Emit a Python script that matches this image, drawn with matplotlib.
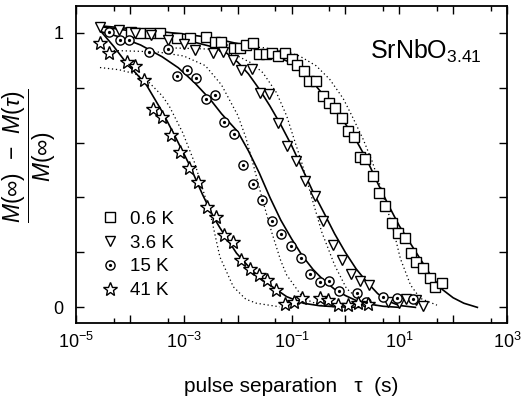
import numpy as np
import matplotlib
matplotlib.use("Agg")
import matplotlib.pyplot as plt
from matplotlib.ticker import FixedLocator, NullFormatter, FuncFormatter

plt.rcParams['font.family'] = ['Liberation Sans', 'DejaVu Sans']
plt.rcParams['mathtext.fontset'] = 'custom'
plt.rcParams['mathtext.rm'] = 'Liberation Sans'
plt.rcParams['mathtext.it'] = 'Liberation Sans:italic'
plt.rcParams['mathtext.bf'] = 'Liberation Sans:bold'

# ---------------- data (log10 of tau in s, normalized value) ----------------
labels = ["0.6 K", "3.6 K", "15 K", "41 K"]

sq_logt = [-3.97, -3.81, -3.63, -3.44, -3.13, -2.89, -2.58, -2.42, -2.30, -2.07, -1.96, -1.84,
           -1.71, -1.60, -1.48, -1.37, -1.25, -1.12, -1.00, -0.90, -0.77, -0.67, -0.54, -0.41,
           -0.30, -0.19, -0.07, 0.04, 0.16, 0.28, 0.36, 0.52, 0.62, 0.74, 0.87, 0.97, 1.10,
           1.22, 1.32, 1.45, 1.57, 1.67, 1.80]
sq_val = [1.001, 0.998, 0.998, 0.998, 0.979, 0.979, 0.985, 0.967, 0.965, 0.945, 0.945, 0.954,
          0.961, 0.921, 0.921, 0.927, 0.915, 0.927, 0.903, 0.881, 0.860, 0.824, 0.824, 0.769,
          0.745, 0.725, 0.691, 0.642, 0.621, 0.549, 0.541, 0.478, 0.415, 0.370, 0.308, 0.269,
          0.254, 0.199, 0.166, 0.142, 0.108, 0.075, 0.090]

tr_logt = [-4.55, -4.20, -3.90, -3.60, -3.30, -3.00, -2.79, -2.45, -2.27, -2.08, -1.93, -1.74,
           -1.59, -1.41, -1.25, -1.09, -0.91, -0.75, -0.57, -0.41, -0.23, -0.07, 0.11, 0.27,
           0.43, 0.80, 1.00, 1.13, 1.32, 1.45]
tr_val = [1.020, 1.010, 1.000, 0.990, 0.975, 0.960, 0.937, 0.925, 0.931, 0.900, 0.864, 0.867,
          0.779, 0.778, 0.671, 0.586, 0.533, 0.460, 0.404, 0.314, 0.226, 0.172, 0.121, 0.097,
          0.080, 0.020, 0.015, 0.029, 0.027, 0.006]

ci_logt = [-4.38, -4.18, -4.01, -3.65, -3.30, -3.13, -2.94, -2.77, -2.59, -2.42, -2.26, -2.07,
           -1.90, -1.71, -1.54, -1.36, -1.19, -1.01, -0.83, -0.66, -0.47, -0.30, -0.12, 0.22,
           0.39, 0.70, 0.95, 1.26]
ci_val = [1.002, 0.975, 0.975, 0.930, 0.941, 0.842, 0.863, 0.836, 0.757, 0.774, 0.674, 0.630,
          0.517, 0.448, 0.391, 0.316, 0.267, 0.225, 0.178, 0.120, 0.093, 0.096, 0.061, 0.053,
          0.021, 0.039, 0.033, 0.030]

st_logt = [-4.56, -4.39, -4.06, -3.90, -3.73, -3.57, -3.41, -3.23, -3.07, -2.91, -2.73, -2.56,
           -2.41, -2.26, -2.09, -1.93, -1.77, -1.60, -1.45, -1.28, -1.12, -0.96, -0.80, -0.48,
           -0.32, -0.13, 0.05, 0.24, 0.42]
st_val = [0.961, 0.927, 0.893, 0.879, 0.828, 0.723, 0.694, 0.629, 0.567, 0.507, 0.458, 0.364,
          0.329, 0.263, 0.239, 0.172, 0.140, 0.118, 0.100, 0.063, 0.012, 0.018, 0.035, 0.035,
          0.027, 0.008, 0.008, 0.015, 0.012]

# solid fit curves
sq_fit_logt = [-4.555, -4.0, -3.5, -3.0, -2.5, -2.0, -1.5, -1.0, -0.75, -0.5, -0.25, 0.0, 0.2,
               0.4, 0.6, 0.8, 1.0, 1.2, 1.4, 1.6, 1.8, 2.0, 2.2, 2.45]
sq_fit_val = [1.025, 1.015, 1.005, 0.995, 0.982, 0.960, 0.930, 0.890, 0.855, 0.795, 0.735,
              0.668, 0.608, 0.537, 0.452, 0.372, 0.297, 0.235, 0.173, 0.112, 0.065, 0.035,
              0.015, 0.0]

tr_fit_logt = [-4.555, -4.0, -3.5, -3.0, -2.5, -2.2, -2.0, -1.8, -1.6, -1.4, -1.2, -1.0, -0.8,
               -0.6, -0.4, -0.2, 0.0, 0.2, 0.4, 0.6, 0.8, 1.0, 1.3]
tr_fit_val = [1.022, 1.007, 0.993, 0.975, 0.950, 0.925, 0.893, 0.850, 0.795, 0.733, 0.665,
              0.590, 0.505, 0.420, 0.345, 0.268, 0.200, 0.140, 0.092, 0.050, 0.022, 0.007, 0.0]

ci_fit_logt = [-4.53, -4.2, -3.8, -3.4, -3.1, -2.8, -2.5, -2.3, -2.0, -1.8, -1.6, -1.4, -1.2,
               -1.0, -0.8, -0.6, -0.4, -0.2, 0.0, 0.2, 0.4, 0.7, 1.0]
ci_fit_val = [1.003, 0.985, 0.955, 0.912, 0.872, 0.818, 0.755, 0.705, 0.640, 0.570, 0.490,
              0.400, 0.318, 0.250, 0.188, 0.138, 0.098, 0.066, 0.043, 0.025, 0.013, 0.004, 0.0]

st_fit_logt = [-4.53, -4.3, -4.07, -3.70, -3.39, -3.15, -2.90, -2.65, -2.45, -2.33, -2.02,
               -1.71, -1.40, -1.09, -0.78, -0.48, -0.17, 0.3]
st_fit_val = [1.003, 0.950, 0.891, 0.812, 0.709, 0.618, 0.521, 0.410, 0.330, 0.290, 0.197,
              0.130, 0.081, 0.039, 0.015, 0.006, 0.002, 0.0]

# dotted curves
sq_dot_logt = [-2.2, -1.5, -1.0, -0.85, -0.54, -0.29, -0.04, 0.14, 0.33, 0.50, 0.70, 0.90,
               1.02, 1.21, 1.39, 1.70]
sq_dot_val = [0.955, 0.945, 0.925, 0.915, 0.879, 0.830, 0.760, 0.690, 0.612, 0.530, 0.410,
              0.275, 0.178, 0.081, 0.033, 0.008]

tr_dot_logt = [-3.3, -2.5, -2.0, -1.75, -1.53, -1.28, -1.09, -0.91, -0.81, -0.62, -0.44,
               -0.20, 0.02, 0.27, 0.6]
tr_dot_val = [0.945, 0.940, 0.915, 0.890, 0.854, 0.782, 0.697, 0.587, 0.527, 0.397, 0.275,
              0.154, 0.069, 0.025, 0.005]

ci_dot_logt = [-4.3, -3.5, -3.0, -2.6, -2.3, -2.0, -1.85, -1.71, -1.55, -1.37, -1.20, -1.09,
               -0.78, -0.48, -0.1]
ci_dot_val = [0.935, 0.930, 0.915, 0.880, 0.810, 0.700, 0.620, 0.520, 0.400, 0.275, 0.170,
              0.118, 0.033, 0.008, 0.0]

st_dot_logt = [-4.555, -4.2, -3.9, -3.64, -3.4, -3.27, -3.02, -2.80, -2.60, -2.48, -2.33,
               -2.08, -1.85, -1.65, -1.22]
st_dot_val = [0.873, 0.865, 0.850, 0.818, 0.770, 0.733, 0.636, 0.527, 0.400, 0.318, 0.184,
              0.075, 0.030, 0.015, 0.002]

x_tick_labels = ["$10^{-5}$", "$10^{-3}$", "$10^{-1}$", "$10^{1}$", "$10^{3}$"]

# ---------------- figure ----------------
fig = plt.figure(figsize=(5.22, 4.03), dpi=100)
ax = fig.add_axes([76/522, 1-323.3/403, 431/522, 317.3/403])

p = lambda a: np.power(10.0, np.asarray(a))

solid_kw = dict(color='black', lw=1.2, zorder=2)
dot_kw = dict(color='black', lw=0.9, ls=(0, (1, 2.2)), zorder=1)
for lt, v in [(sq_fit_logt, sq_fit_val), (tr_fit_logt, tr_fit_val),
              (ci_fit_logt, ci_fit_val), (st_fit_logt, st_fit_val)]:
    ax.plot(p(lt), v, **solid_kw)
for lt, v in [(sq_dot_logt, sq_dot_val), (tr_dot_logt, tr_dot_val),
              (ci_dot_logt, ci_dot_val), (st_dot_logt, st_dot_val)]:
    ax.plot(p(lt), v, **dot_kw)

mk = dict(ls='none', mfc='white', mec='black', mew=1.0, zorder=3)
h_sq, = ax.plot(p(sq_logt), sq_val, marker='s', ms=6.5, **mk)
h_tr, = ax.plot(p(tr_logt), tr_val, marker='v', ms=7.2, **mk)
h_ci, = ax.plot(p(ci_logt), ci_val, marker='o', ms=6.6, **mk)
h_cd, = ax.plot(p(ci_logt), ci_val, ls='none', marker='o', ms=1.3, mfc='black', mec='black', zorder=4)
h_st, = ax.plot(p(st_logt), st_val, marker='*', ms=10, **mk)

ax.set_xscale('log')
ax.set_xlim(1e-5, 1e3)
ax.set_ylim(-0.058, 1.097)

ax.xaxis.set_major_locator(FixedLocator([10.0**k for k in range(-5, 4)]))
ax.xaxis.set_minor_locator(FixedLocator([5 * 10.0**k for k in range(-6, 3)]))
lab_map = {-5: 0, -3: 1, -1: 2, 1: 3, 3: 4}
ax.xaxis.set_major_formatter(FuncFormatter(
    lambda x, pos: x_tick_labels[lab_map[int(round(np.log10(x)))]] if int(round(np.log10(x))) in lab_map else ""))
ax.xaxis.set_minor_formatter(NullFormatter())
ax.yaxis.set_major_locator(FixedLocator([0, 0.2, 0.4, 0.6, 0.8, 1.0]))
ax.yaxis.set_major_formatter(FuncFormatter(
    lambda y, pos: "0" if abs(y) < 1e-6 else ("1" if abs(y - 1) < 1e-6 else "")))

ax.tick_params(which='both', direction='in', top=True, right=True, width=1.0, labelsize=13)
ax.tick_params(axis='x', pad=6)
ax.tick_params(axis='y', pad=9)
ax.tick_params(which='major', length=6)
ax.tick_params(which='minor', length=3.5)
for s in ax.spines.values():
    s.set_linewidth(1.3)

ax.set_xlabel("pulse separation   \u03c4  (s)", fontsize=15, labelpad=18)
fig.text(29.5/522, 1 - 156/403,
         r"$\dfrac{M(\infty)\ \ \mathrm{-}\ \ M(\tau)}{M(\infty)}$",
         fontsize=16.5, rotation=90, ha='center', va='center')

ax.text(0.682, 0.835, r"SrNbO$_{3.41}$", transform=ax.transAxes, fontsize=18, va='baseline')

leg = ax.legend([h_sq, h_tr, (h_ci, h_cd), h_st], labels, loc='upper left',
                bbox_to_anchor=(0.036, 0.385), frameon=False, fontsize=13.5,
                handlelength=1.0, handletextpad=0.55, labelspacing=0.36, borderpad=0)

fig.savefig("out.png", dpi=100)
